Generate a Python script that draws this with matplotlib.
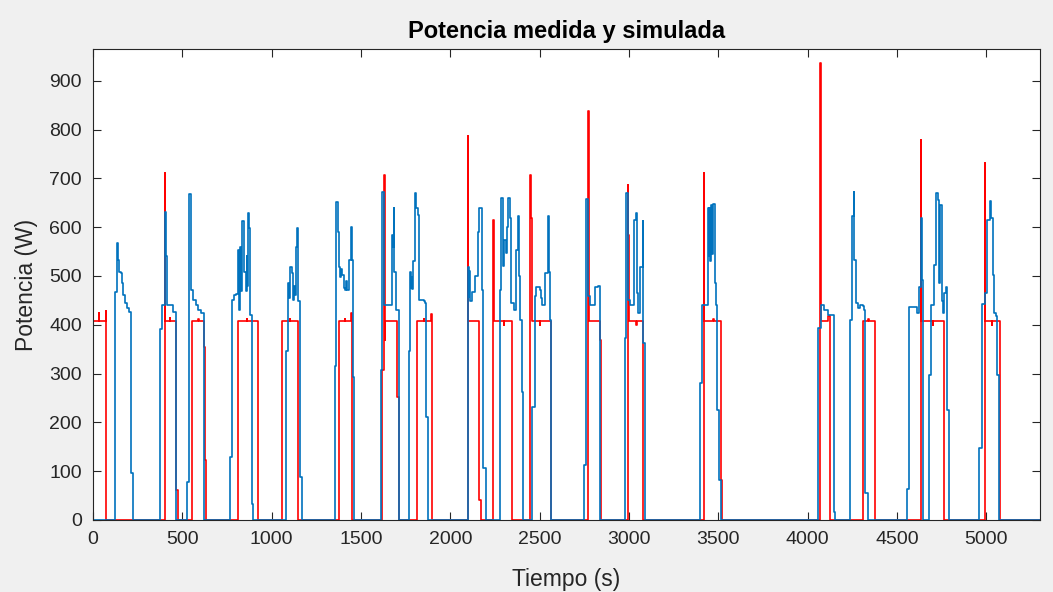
"""Potencia medida y simulada - recreated MATLAB style figure."""

import matplotlib
matplotlib.use("Agg")
import matplotlib.pyplot as plt

# Potencia medida (W): instantes de cambio (s) y valor mantenido
t_medida = [0,
            125, 133, 140, 148, 155, 162, 170, 181, 192, 203, 215, 226,
            375, 386, 401, 409, 416, 450, 465,
            524, 535, 547, 560, 575, 590, 605, 622,
            767, 778, 789, 800, 812, 818, 824, 830, 834, 845, 855, 860, 864, 868, 875, 880, 888, 897,
            1079, 1090, 1095, 1100, 1105, 1112, 1117, 1123, 1128, 1135, 1142, 1150, 1161, 1168,
            1355, 1361, 1370, 1374, 1380, 1386, 1392, 1404, 1413, 1418, 1422, 1433, 1445, 1452, 1456, 1463,
            1613, 1620, 1631, 1672, 1679, 1684, 1687, 1695, 1710,
            1766, 1773, 1777, 1780, 1785, 1792, 1803, 1810, 1818, 1822, 1851, 1859, 1866, 1874,
            2098, 2102, 2106, 2112, 2122, 2137, 2152, 2163, 2176, 2185, 2197,
            2279, 2286, 2292, 2297, 2303, 2309, 2317, 2324, 2331, 2339, 2357, 2368, 2380, 2384, 2391, 2402, 2406,
            2458, 2473, 2480, 2499, 2505, 2512, 2530, 2544, 2551, 2555, 2563,
            2749, 2760, 2772, 2783, 2811, 2824, 2839,
            2975, 2983, 2994, 3005, 3027, 3038, 3042, 3050, 3064, 3076, 3080, 3087,
            3399, 3408, 3442, 3446, 3450, 3454, 3458, 3462, 3468, 3479, 3487, 3494, 3505, 3513,
            4059, 4074, 4089, 4115, 4145, 4153,
            4238, 4250, 4257, 4261, 4268, 4283, 4294, 4309, 4317, 4321, 4336,
            4556, 4565, 4614, 4621, 4634, 4638, 4643, 4681, 4689, 4704, 4716, 4727, 4735, 4742, 4749, 4756,
            4763, 4774, 4778, 4788,
            4961, 4976, 4994, 5006, 5021, 5028, 5035, 5043, 5054, 5062, 5069,
            5300]
p_medida = [0,
            468, 568, 533, 509, 506, 485, 461, 444, 434, 427, 96, 0,
            391, 441, 632, 540, 441, 427, 0,
            77, 668, 471, 451, 441, 431, 425, 0,
            130, 451, 461, 463, 553, 430, 560, 470, 613, 509, 470, 540, 480, 629, 598, 420, 33, 0,
            346, 486, 455, 500, 519, 506, 450, 480, 460, 560, 599, 448, 89, 0,
            316, 651, 591, 519, 498, 515, 502, 475, 471, 490, 471, 533, 601, 533, 294, 0,
            307, 671, 441, 584, 560, 639, 509, 431, 0,
            346, 509, 475, 498, 473, 530, 670, 640, 625, 451, 448, 444, 212, 0,
            519, 456, 510, 448, 468, 499, 590, 639, 471, 106, 0,
            471, 659, 574, 520, 574, 547, 600, 659, 618, 444, 430, 553, 622, 499, 410, 263, 0,
            232, 458, 478, 472, 454, 441, 506, 622, 509, 410, 0,
            113, 657, 458, 441, 478, 480, 0,
            372, 670, 451, 441, 615, 629, 465, 424, 519, 612, 362, 0,
            280, 441, 639, 540, 640, 531, 645, 545, 648, 485, 441, 225, 82, 0,
            393, 441, 431, 420, 17, 0,
            410, 622, 671, 533, 444, 434, 441, 438, 431, 55, 0,
            63, 437, 424, 478, 618, 492, 0, 297, 441, 523, 670, 656, 485, 646, 448, 424,
            465, 478, 225, 0,
            147, 442, 465, 615, 653, 618, 502, 424, 417, 297, 0,
            0]

# Potencia simulada (W)
t_simulada = [0, 33, 36, 71, 74,
              401, 403, 430, 433, 463, 476,
              554, 590, 593, 622, 625, 633,
              814, 860, 863, 926,
              1056, 1100, 1103, 1146,
              1377, 1410, 1413, 1443, 1452,
              1617, 1631, 1634, 1637, 1700, 1710,
              1812, 1850, 1853, 1890, 1900,
              2098, 2100, 2163, 2171,
              2241, 2243, 2300, 2303, 2346,
              2447, 2449, 2455, 2500, 2503, 2563, 2566,
              2772, 2774, 2778, 2839, 2843,
              2994, 2996, 2998, 3040, 3043, 3076,
              3417, 3419, 3470, 3473, 3516, 3523,
              4071, 4073, 4115, 4123,
              4309, 4340, 4343, 4378,
              4634, 4636, 4700, 4703, 4761,
              4991, 4993, 5030, 5033, 5078,
              5300]
p_simulada = [407, 425, 407, 428, 0,
              711, 407, 413, 407, 62, 0,
              407, 412, 407, 355, 123, 0,
              407, 412, 407, 0,
              407, 411, 407, 0,
              407, 412, 407, 424, 0,
              307, 707, 369, 407, 253, 0,
              407, 412, 407, 422, 0,
              786, 407, 41, 0,
              615, 407, 400, 407, 0,
              707, 618, 407, 400, 407, 229, 0,
              838, 567, 407, 369, 0,
              687, 584, 407, 400, 407, 0,
              711, 407, 412, 407, 82, 0,
              936, 407, 418, 0,
              407, 412, 407, 0,
              779, 407, 400, 407, 0,
              731, 407, 400, 407, 0,
              0]

plt.rcParams['font.family'] = ['Liberation Sans', 'DejaVu Sans']

fig = plt.figure(figsize=(10.53, 5.92), dpi=100, facecolor='#F0F0F0')
ax = fig.add_axes([93 / 1053, 1 - 520 / 592, (1040 - 93) / 1053, (520 - 49) / 592])

ax.step(t_simulada, p_simulada, where='post', color='#FF0000', linewidth=1.2)
ax.step(t_medida, p_medida, where='post', color='#0072BD', linewidth=1.2)

ax.set_xlim(0, 5300)
ax.set_ylim(0, 965)
ax.set_xticks(range(0, 5001, 500))
ax.set_yticks(range(0, 901, 100))

dark = '#262626'
for s in ax.spines.values():
    s.set_color(dark)
    s.set_linewidth(0.8)
ax.tick_params(direction='in', length=6, width=0.8, color=dark, labelcolor=dark,
               labelsize=14, top=True, right=True, pad=8)

ax.set_title('Potencia medida y simulada', fontsize=17, fontweight='bold', color='black', pad=8)
ax.set_xlabel('Tiempo (s)', fontsize=16.5, color=dark, labelpad=14)
ax.set_ylabel('Potencia (W)', fontsize=16.5, color=dark, labelpad=8)

fig.savefig('out.png', dpi=100, facecolor=fig.get_facecolor())
